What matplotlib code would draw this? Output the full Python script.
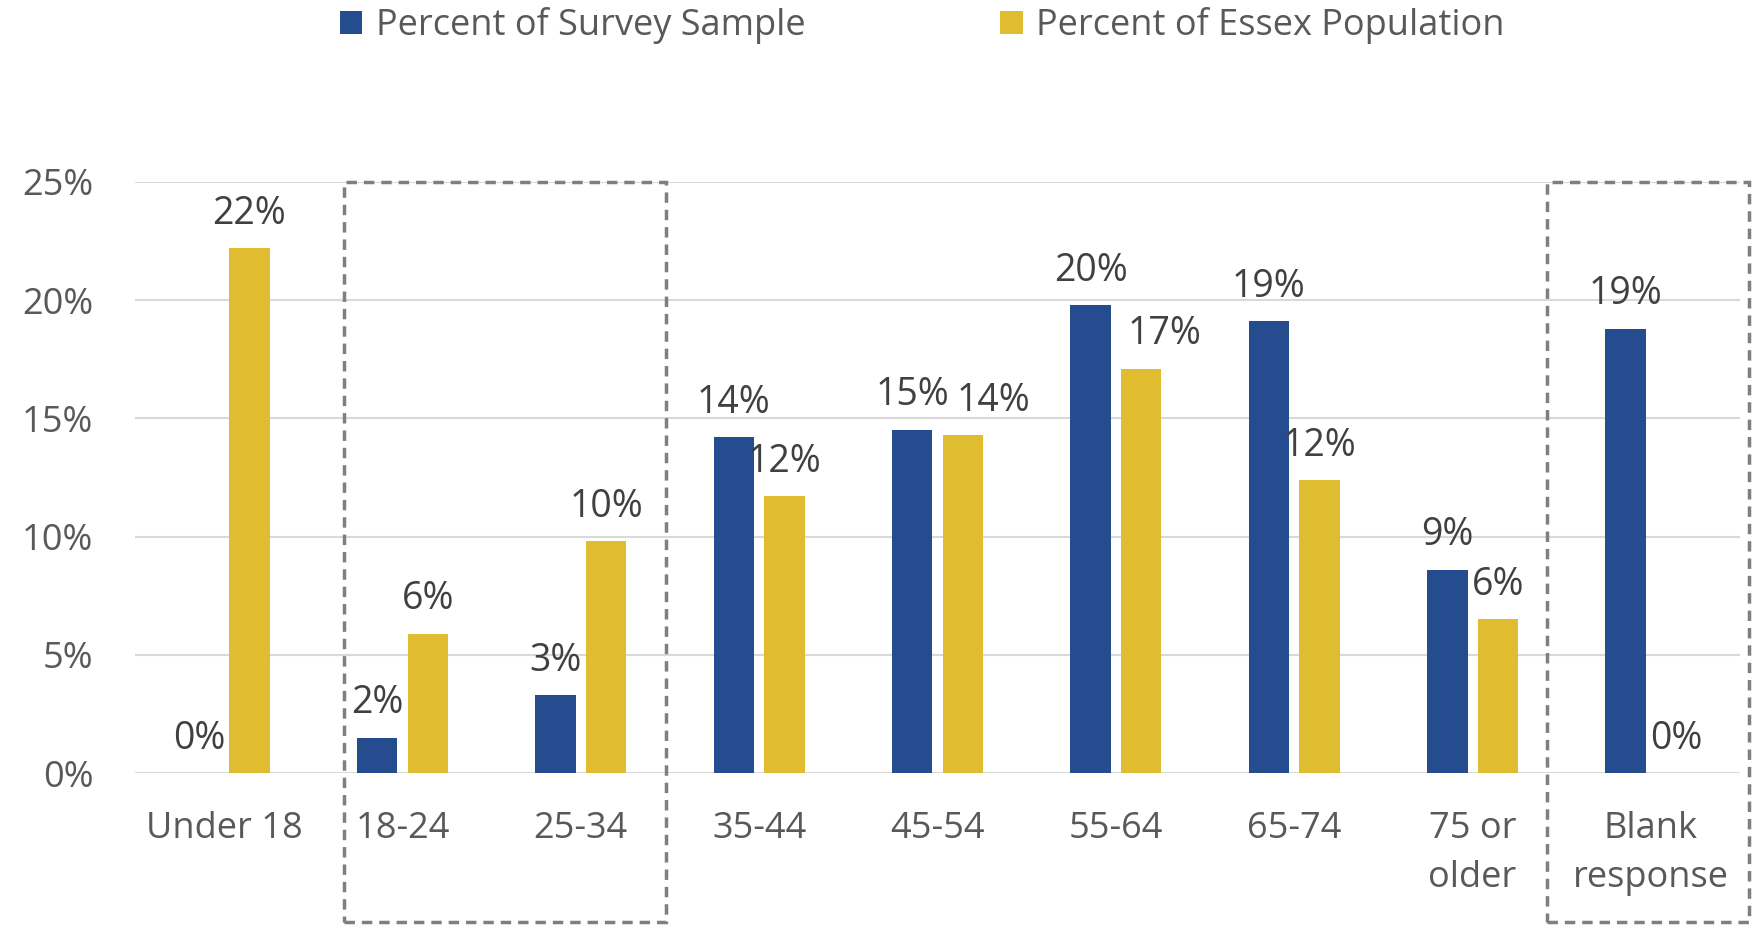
import matplotlib
matplotlib.use("Agg")
import matplotlib.pyplot as plt
import numpy as np
from matplotlib.patches import Rectangle
from matplotlib.ticker import PercentFormatter
from matplotlib.transforms import blended_transform_factory

plt.rcParams['font.family'] = ['Open Sans', 'DejaVu Sans']

categories = ["Under 18", "18-24", "25-34", "35-44", "45-54", "55-64", "65-74",
              "75 or\nolder", "Blank\nresponse"]
survey = [0.0, 1.5, 3.3, 14.2, 14.52, 19.8, 19.1, 8.6, 18.8]
essex = [22.2, 5.9, 9.8, 11.7, 14.3, 17.1, 12.4, 6.5, 0.0]

BLUE = "#244C8E"
GOLD = "#E0BC31"

fig = plt.figure(figsize=(17.6, 9.26), dpi=100)
ax = fig.add_axes([0.0767, 0.1652, 0.912, 0.6383])

x = np.arange(len(categories))
w = 0.227
off = 0.142
b1 = ax.bar(x - off, survey, w, color=BLUE, label="Percent of Survey Sample", zorder=3)
b2 = ax.bar(x + off, essex, w, color=GOLD, label="Percent of Essex Population", zorder=3)

# a couple of labels nudged sideways so they don't collide (like Excel does)
nudge = {(1, 4): 22, (1, 5): 17}
for k, (bars, vals) in enumerate(((b1, survey), (b2, essex))):
    for i, (r, v) in enumerate(zip(bars, vals)):
        ax.annotate(f"{v:.0f}%", (r.get_x() + r.get_width() / 2, v),
                    xytext=(nudge.get((k, i), 0), 11), textcoords="offset points",
                    ha="center", va="bottom", fontsize=27, color="#404040")

ax.set_xlim(-0.5, len(categories) - 0.5)
ax.set_ylim(0, 25)
ax.set_yticks([0, 5, 10, 15, 20, 25])
ax.yaxis.set_major_formatter(PercentFormatter(decimals=0))
ax.set_xticks(x)
ax.set_xticklabels(categories, linespacing=1.5)
ax.tick_params(axis="both", length=0, labelsize=26, labelcolor="#595959")
ax.tick_params(axis="x", pad=27)
ax.tick_params(axis="y", pad=30)
ax.grid(axis="y", color="#D9D9D9", linewidth=1.5, zorder=0)
for s in ax.spines.values():
    s.set_visible(False)

# dashed boxes around highlighted groups
tr = blended_transform_factory(ax.transData, ax.transAxes)
for x0, x1 in ((0.67, 2.48), (7.42, 8.55)):
    ax.add_patch(Rectangle((x0, -0.252), x1 - x0, 1.252, transform=tr, fill=False,
                           edgecolor="#7F7F7F", linestyle=(0, (3, 2)), linewidth=2.5,
                           clip_on=False, zorder=4))

fig.legend(handles=[b1, b2], loc="center", bbox_to_anchor=(0.524, 0.972), ncol=2,
           frameon=False, fontsize=26, labelcolor="#595959", handlelength=0.62,
           handleheight=0.62, handletextpad=0.37, columnspacing=5.4)

fig.savefig("out.png", dpi=100)
